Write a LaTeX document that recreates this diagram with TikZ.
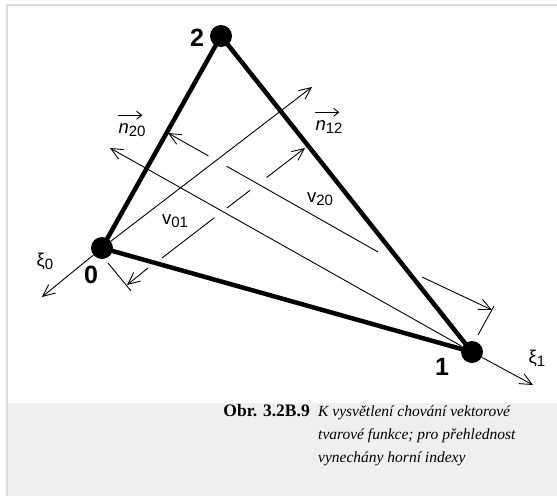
\documentclass[tikz,border=0pt]{standalone}
\usepackage{fontspec}
\setmainfont{Liberation Serif}
\newfontfamily\lab{Liberation Sans}
\usetikzlibrary{arrows.meta,calc}
\definecolor{capgray}{HTML}{EFEFEF}
\definecolor{framegray}{HTML}{DCDCDC}
\newcommand\lsub[1]{\raisebox{-3pt}{\fontsize{15}{15}\selectfont #1}}
\begin{document}
\begin{tikzpicture}[x=1pt,y=-1pt,
  vert/.style={circle,fill=black,inner sep=0pt,minimum size=22pt},
  edgeline/.style={line width=4.5pt},
  thinline/.style={line width=0.9pt},
  tip/.style={-{Straight Barb[length=12pt,width=11pt,line width=0.9pt]}},
  vecacc/.style={line width=0.9pt,-{Straight Barb[length=5pt,width=8pt,line width=0.9pt]}},
  numlab/.style={font=\lab\bfseries\fontsize{25}{25}\selectfont,inner sep=0pt},
  symlab/.style={font=\lab\fontsize{18.5}{18.5}\selectfont,inner sep=0pt},
  captext/.style={inner sep=0pt,anchor=base west,font=\itshape\fontsize{15.5}{15.5}\selectfont},
]
\useasboundingbox (0,0) rectangle (557,496);
\fill[white] (0,0) rectangle (557,496);
\fill[capgray] (7,403) rectangle (557,496);
\draw[framegray,line width=2pt] (557,5) -- (7,5) -- (7,496);

% vertices
\node[vert] (v0) at (102,248) {};
\node[vert] (v1) at (472,352) {};
\node[vert] (v2) at (221,36) {};
\draw[edgeline,line join=round] (v0.center) -- (v1.center) -- (v2.center) -- cycle;

% auxiliary points
\coordinate (t12) at (312,87);
\coordinate (t20) at (110,148);
\coordinate (d1a) at (162,258); \coordinate (d1b) at (305,148);
\coordinate (d2a) at (378,252); \coordinate (d2b) at (168,133);
\coordinate (x0) at (42,297);   \coordinate (x1) at (533,385);
\coordinate (m1a) at (422,277); \coordinate (m1b) at (492,310);
\coordinate (k1a) at (494,306); \coordinate (k1b) at (478,335);
\coordinate (m0a) at (148,268); \coordinate (m0b) at (127,285);
\coordinate (k0a) at (108,263); \coordinate (k0b) at (131,291);

% normals and dimension lines
\draw[thinline,tip] (v0) -- (t12);
\draw[thinline,tip] (v1) -- (t20);
\draw[thinline,tip,dash pattern=on 66pt off 16pt on 29pt off 21pt on 80pt] (d1a) -- (d1b);
\draw[thinline,tip,dash pattern=on 174pt off 21pt on 80pt] (d2a) -- (d2b);
\draw[thinline,tip] (v0) -- (x0);
\draw[thinline,tip] (v1) -- (x1);
\draw[thinline,tip] (m1a) -- (m1b);
\draw[thinline] (k1a) -- (k1b);
\draw[thinline,tip] (m0a) -- (m0b);
\draw[thinline] (k0a) -- (k0b);

% labels
\node[numlab] (l2) at (197,38) {2};
\node[numlab] (l0) at (91,275) {0};
\node[numlab] (l1) at (442,367) {1};
\node[symlab] (xi0) at (45,261) {ξ\lsub{0}};
\node[symlab] (xi1) at (537,358) {ξ\lsub{1}};
\node[symlab] (n20) at (132,130) {\textit{n}\lsub{20}};
\node[symlab] (n12) at (329,127) {\textit{n}\lsub{12}};
\node[symlab] (v01) at (175,221) {v\lsub{01}};
\node[symlab] (v20) at (320,199) {v\lsub{20}};
\draw[vecacc] ($(n20.north west)+(0,-8)$) -- ++(24,0);
\draw[vecacc] ($(n12.north west)+(0,-8)$) -- ++(24,0);

% caption
\node[inner sep=0pt,anchor=base east,font=\bfseries\fontsize{17.5}{17.5}\selectfont] (cap) at (310,416) {Obr. 3.2B.9};
\node[captext] (c1) at (318,416) {K vysvětlení chování vektorové};
\node[captext] (c2) at (318,439) {tvarové funkce; pro přehlednost};
\node[captext] (c3) at (318,462) {vynechány horní indexy};
\end{tikzpicture}
\end{document}
